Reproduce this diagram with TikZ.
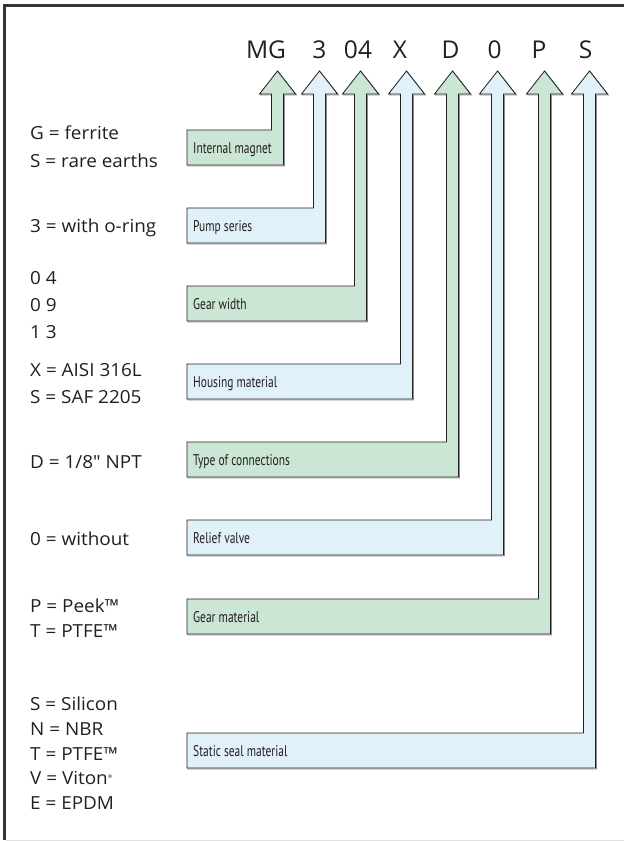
\documentclass[tikz,border=0pt]{standalone}
\usepackage{fontspec}
\setmainfont{Open Sans}
\newfontfamily\optfont[FakeStretch=1.05, Ligatures=TeXOff]{Open Sans}
\newfontfamily\condfont[FakeStretch=0.74]{PT Sans}
\definecolor{gfill}{RGB}{203,230,212}
\definecolor{bfill}{RGB}{225,241,250}
\definecolor{ink}{RGB}{35,31,32}
\newcommand{\arrowpath}[2]{(187,{#2+35}) -- (187,#2) -- ({#1-6},#2) -- ({#1-6},94) -- ({#1-18},94) -- (#1,71) -- ({#1+18},94) -- ({#1+6},94) -- ({#1+6},{#2+35}) -- cycle}
\newcommand{\codearrow}[5]{%
  \draw[shadowline] \arrowpath{#1}{#2};
  \filldraw[fill=#3, arrowline] \arrowpath{#1}{#2};
  \node[lbl] (#5) at (193,{#2+23}) {#4};
}
\begin{document}
\begin{tikzpicture}[x=1pt,y=-1pt,
  shadowline/.style={draw=black!45, line width=0.9pt, shift={(1,1)}},
  arrowline/.style={draw=ink, line width=0.8pt, line join=miter},
  lbl/.style={anchor=base west, inner sep=0pt, text=ink, font=\condfont\fontsize{15.5}{15.5}\selectfont},
  opt/.style={anchor=base west, inner sep=0pt, text=ink, font=\optfont\fontsize{18}{18}\selectfont},
  code/.style={anchor=base, inner sep=0pt, text=ink, font=\fontsize{24.5}{24.5}\selectfont}]
\useasboundingbox (0,0) rectangle (624,841);
\fill[white] (0,0) rectangle (624,841);
\draw[ink!90, line width=2.2pt] (4.5,839.5) -- (4.5,5.5) -- (624,5.5);
\draw[black!12, line width=1pt] (5.5,840.3) -- (624,840.3);
% code letters
\node[code] (cMG) at (266,58) {MG};
\node[code] (c3) at (319.5,58) {3};
\node[code] (c04) at (358,58) {04};
\node[code] (cX) at (400,58) {X};
\node[code] (cD) at (450.5,58) {D};
\node[code] (c0) at (494.5,58) {0};
\node[code] (cP) at (539,58) {P};
\node[code] (cS) at (585.5,58) {S};
% arrows with boxes
\codearrow{277.5}{130}{gfill}{Internal magnet}{lMag}
\codearrow{319.5}{208}{bfill}{Pump series}{lPump}
\codearrow{360.5}{286}{gfill}{Gear width}{lWidth}
\codearrow{406.5}{364}{bfill}{Housing material}{lHous}
\codearrow{452.5}{442}{gfill}{Type of connections}{lConn}
\codearrow{497.5}{520}{bfill}{Relief valve}{lValve}
\codearrow{544.5}{599}{gfill}{Gear material}{lGear}
\codearrow{589.5}{733}{bfill}{Static seal material}{lSeal}
% option texts
\node[opt] (o1) at (30,139) {G = ferrite};
\node[opt] (o2) at (30,167) {S = rare earths};
\node[opt] (o3) at (30,232) {3 = with o-ring};
\node[opt] (o4) at (30,284) {0 4};
\node[opt] (o5) at (30,311) {0 9};
\node[opt] (o6) at (30,338) {1 3};
\node[opt] (o7) at (30,376) {X = AISI 316L};
\node[opt] (o8) at (30,403) {S = SAF 2205};
\node[opt] (o9) at (30,468) {D = 1/8" NPT};
\node[opt] (o10) at (30,545) {0 = without};
\node[opt] (o11) at (30,612) {P = Peek™};
\node[opt] (o12) at (30,637) {T = PTFE™};
\node[opt] (o13) at (30,710) {S = Silicon};
\node[opt] (o14) at (30,735) {N = NBR};
\node[opt] (o15) at (30,760) {T = PTFE™};
\node[opt] (o16) at (30,784) {V = Viton\raisebox{6pt}{\fontsize{5}{5}\selectfont ®}};
\node[opt] (o17) at (30,809) {E = EPDM};
\end{tikzpicture}
\end{document}
